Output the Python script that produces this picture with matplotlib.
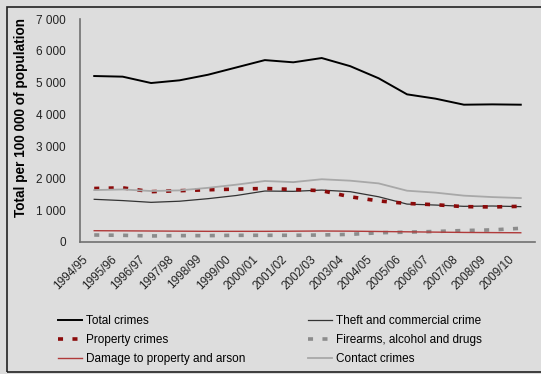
import numpy as np
import matplotlib
matplotlib.use('Agg')
import matplotlib.pyplot as plt
import matplotlib.transforms as mtransforms
from matplotlib.patches import Rectangle
from matplotlib.ticker import FuncFormatter

plt.rcParams['font.family'] = ['Liberation Sans', 'DejaVu Sans']

years = ['1994/95', '1995/96', '1996/97', '1997/98', '1998/99', '1999/00', '2000/01', '2001/02',
         '2002/03', '2003/04', '2004/05', '2005/06', '2006/07', '2007/08', '2008/09', '2009/10']

total = [5210, 5190, 4990, 5075, 5250, 5480, 5710, 5640, 5775, 5520, 5140, 4635, 4500, 4310, 4320, 4310]
theft = [1340, 1300, 1245, 1280, 1360, 1460, 1600, 1590, 1630, 1580, 1420, 1190, 1160, 1120, 1130, 1110]
property_ = [1680, 1700, 1580, 1610, 1640, 1660, 1680, 1650, 1610, 1420, 1290, 1210, 1170, 1110, 1100, 1120]
firearms = [220, 210, 190, 200, 200, 210, 210, 210, 220, 240, 290, 310, 330, 360, 380, 430]
damage = [355, 350, 345, 340, 335, 335, 335, 340, 345, 340, 330, 320, 310, 300, 295, 290]
contact = [1630, 1650, 1600, 1620, 1700, 1800, 1915, 1880, 1970, 1925, 1840, 1610, 1550, 1455, 1410, 1380]

bg = '#dddddd'
fig = plt.figure(figsize=(5.41, 3.74), dpi=100, facecolor=bg)
ax = fig.add_axes([80/541, 1-242/374, 455/541, 223/374])
ax.set_facecolor(bg)

x = np.arange(len(years))
l_total, = ax.plot(x, total, color='black', lw=1.4, label='Total crimes')
l_theft, = ax.plot(x, theft, color='#333333', lw=0.9, label='Theft and commercial crime')
l_prop, = ax.plot(x, property_, color='#8b0a0a', lw=2.6, dashes=(1.4, 2.6), label='Property crimes')
l_fire, = ax.plot(x, firearms, color='#8c8c8c', lw=2.6, dashes=(1.4, 2.6), label='Firearms, alcohol and drugs')
l_dmg, = ax.plot(x, damage, color='#b03a3a', lw=1.0, label='Damage to property and arson')
l_cont, = ax.plot(x, contact, color='#a8a8a8', lw=1.3, label='Contact crimes')

ax.set_xlim(-0.5, 15.5)
ax.set_ylim(0, 7000)
ax.set_yticks(range(0, 7001, 1000))
ax.yaxis.set_major_formatter(FuncFormatter(lambda v, p: '{:,}'.format(int(v)).replace(',', ' ')))
ax.set_xticks(x)
ax.set_xticklabels(years, rotation=45, ha='right', rotation_mode='anchor', fontsize=8.5)
ax.tick_params(axis='both', length=0, labelsize=8.5, colors='#222222')
ax.tick_params(axis='y', pad=10)
ax.tick_params(axis='x', pad=8)
shift = mtransforms.ScaledTranslation(-12/100, 0, fig.dpi_scale_trans)
for lab in ax.get_xticklabels():
    lab.set_transform(lab.get_transform() + shift)
for s in ['top', 'right']:
    ax.spines[s].set_visible(False)
for s in ['left', 'bottom']:
    ax.spines[s].set_color('#707070')
    ax.spines[s].set_linewidth(1.2)
ax.set_ylabel('Total per 100 000 of population', fontsize=9.8, fontweight='bold')
ax.yaxis.set_label_coords(-0.115, 0.56)

leg_kw = dict(loc='upper left', frameon=False, fontsize=8.5, handlelength=2.0,
              handletextpad=0.35, labelspacing=0.6, borderaxespad=0, borderpad=0)
leg1 = fig.legend(handles=[l_total, l_prop, l_dmg], bbox_to_anchor=(58/541, 1-315/374), **leg_kw)
leg2 = fig.legend(handles=[l_theft, l_fire, l_cont], bbox_to_anchor=(308/541, 1-315/374), **leg_kw)

fig.patches.append(Rectangle((7/541, 2/374), 1.0, 1-9/374, transform=fig.transFigure,
                             fill=False, edgecolor='#222222', lw=1.2))

fig.savefig('out.png', dpi=100, facecolor=bg)
